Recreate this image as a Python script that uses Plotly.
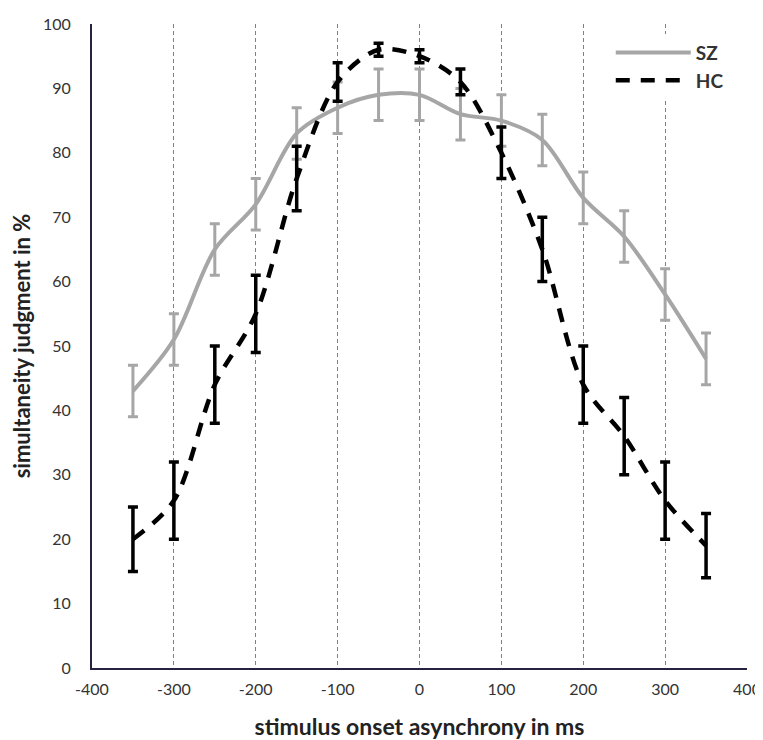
import plotly.graph_objects as go

soa = [-350, -300, -250, -200, -150, -100, -50, 0, 50, 100, 150, 200, 250, 300, 350]
sz_values = [43, 51, 65, 72, 83, 87, 89, 89, 86, 85, 82, 73, 67, 58, 48]
sz_errors = [4, 4, 4, 4, 4, 4, 4, 4, 4, 4, 4, 4, 4, 4, 4]
hc_values = [20, 26, 44, 55, 76, 91, 96, 95, 91, 80, 65, 44, 36, 26, 19]
hc_errors = [5, 6, 6, 6, 5, 3, 1, 1, 2, 4, 5, 6, 6, 6, 5]
x_ticks = [-400, -300, -200, -100, 0, 100, 200, 300, 400]
y_ticks = [0, 10, 20, 30, 40, 50, 60, 70, 80, 90, 100]

FONT = "Lato, 'Open Sans', sans-serif"

fig = go.Figure()
fig.add_trace(go.Scatter(
    x=soa, y=sz_values, name="SZ", mode="lines",
    line=dict(color="#a6a6a6", width=4, shape="spline", smoothing=0.9),
    error_y=dict(type="data", array=sz_errors, visible=True,
                 color="#a6a6a6", thickness=3, width=5),
))
fig.add_trace(go.Scatter(
    x=soa, y=hc_values, name="HC", mode="lines",
    line=dict(color="#000000", width=4.5, shape="spline", smoothing=0.9,
              dash="14px,11px"),
    error_y=dict(type="data", array=hc_errors, visible=True,
                 color="#000000", thickness=3.5, width=5),
))

fig.update_layout(
    width=755, height=732,
    margin=dict(l=84, r=16, t=16, b=72),
    plot_bgcolor="white", paper_bgcolor="white",
    font=dict(family=FONT, color="#333333", size=15),
    showlegend=True,
    legend=dict(x=0.792, y=0.985, xanchor="left", yanchor="top",
                bgcolor="white", itemwidth=75,
                font=dict(family=FONT, size=19, color="#333333", weight="bold"),
                tracegroupgap=0),
    xaxis=dict(
        range=[-400, 400], tickvals=x_ticks, ticktext=[str(v) for v in x_ticks],
        showgrid=True, gridcolor="#808080", griddash="4px,3px", gridwidth=1,
        showline=True, linecolor="#252340", linewidth=2,
        zeroline=False, ticks="", ticklen=0, automargin=False,
        ticklabelstandoff=6,
        tickfont=dict(size=16, color="#333333"),
        title=dict(text="stimulus onset asynchrony in ms", standoff=23,
                   font=dict(size=23, color="#222222", weight="bold")),
    ),
    yaxis=dict(
        range=[0, 100], tickvals=y_ticks, ticktext=[str(v) for v in y_ticks],
        showgrid=False, zeroline=False,
        showline=True, linecolor="#252340", linewidth=2,
        ticks="", ticklen=0, automargin=False,
        ticklabelstandoff=16,
        tickfont=dict(size=16, color="#333333"),
        title=dict(text="simultaneity judgment in %", standoff=10,
                   font=dict(size=22, color="#222222", weight="bold")),
    ),
)

fig.write_html("out.html")
